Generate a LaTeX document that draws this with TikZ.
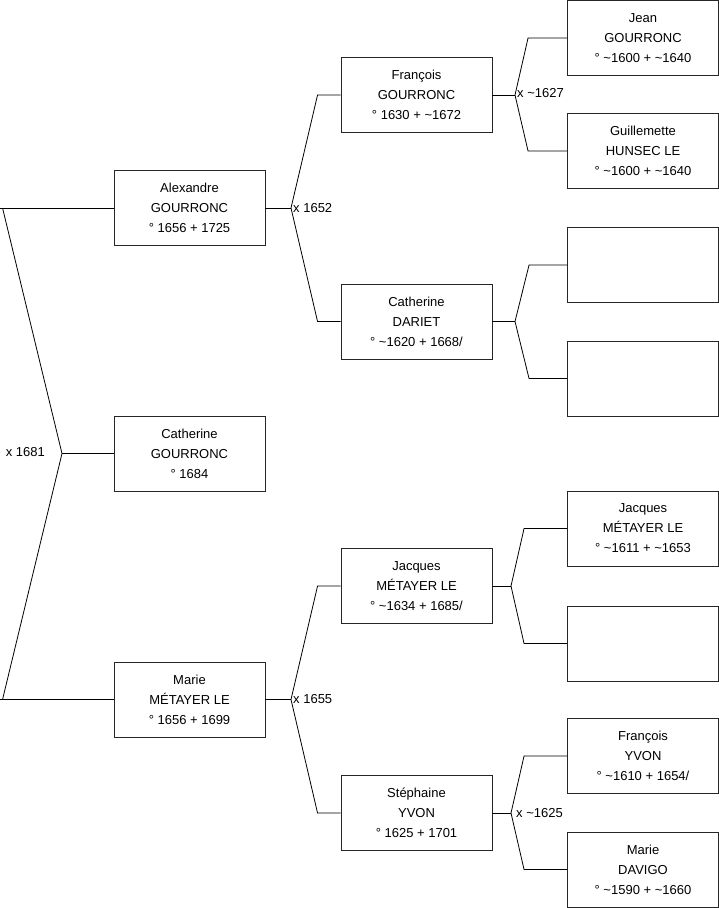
\documentclass[tikz,border=0pt]{standalone}
\usepackage{fontspec}
\setmainfont{Liberation Sans}
\begin{document}
\begin{tikzpicture}[x=1pt,y=-1pt,
  person/.style={draw=black!85,line width=0.9pt,rectangle,minimum width=151pt,minimum height=75pt,inner sep=0pt,align=center,font=\fontsize{13}{20}\selectfont},
  link/.style={draw=black,line width=0.8pt},
  mlabel/.style={inner sep=0pt,font=\fontsize{13}{16}\selectfont}]
\useasboundingbox (0,0) rectangle (719,908);
% generation 1
\node[person] (alex) at (189.5,208) {Alexandre\\GOURRONC\\° 1656 + 1725};
\node[person] (cathg) at (189.5,453.5) {Catherine\\GOURRONC\\° 1684};
\node[person] (marie) at (189.5,699.5) {Marie\\MÉTAYER LE\\° 1656 + 1699};
% generation 2
\node[person] (fran) at (416.5,95) {François\\GOURRONC\\° 1630 + \textasciitilde1672};
\node[person] (cathd) at (416.5,321.5) {Catherine\\DARIET\\° \textasciitilde1620 + 1668/};
\node[person] (jacq) at (416.5,586) {Jacques\\MÉTAYER LE\\° \textasciitilde1634 + 1685/};
\node[person] (steph) at (416.5,813) {Stéphaine\\YVON\\° 1625 + 1701};
% generation 3
\node[person] (jean) at (643,38) {Jean\\GOURRONC\\° \textasciitilde1600 + \textasciitilde1640};
\node[person] (guil) at (643,151) {Guillemette\\HUNSEC LE\\° \textasciitilde1600 + \textasciitilde1640};
\node[person] (e1) at (643,265) {};
\node[person] (e2) at (643,378.5) {};
\node[person] (jacq2) at (643,528.5) {Jacques\\MÉTAYER LE\\° \textasciitilde1611 + \textasciitilde1653};
\node[person] (e3) at (643,643.5) {};
\node[person] (fyvon) at (643,756) {François\\YVON\\° \textasciitilde1610 + 1654/};
\node[person] (davigo) at (643,869.5) {Marie\\DAVIGO\\° \textasciitilde1590 + \textasciitilde1660};
% junctions
\coordinate (j0) at (62,453.5);
\coordinate (j1) at (291,208);
\coordinate (j2) at (291,699.5);
\coordinate (j3) at (515,95);
\coordinate (j4) at (515,321.5);
\coordinate (j5) at (511,586);
\coordinate (j6) at (511,813);
% connectors gen 0
\draw[link] (alex.west) -- ++(-114,0);
\draw[link] (marie.west) -- ++(-114,0);
\draw[link] ([xshift=-111pt]alex.west) -- (j0) -- ([xshift=-111pt]marie.west);
\draw[link] (j0) -- (cathg.west);
% connectors gen 1
\draw[link] (alex.east) -- (j1);
\draw[link] (fran.west) -- ++(-23,0) -- (j1) -- ([xshift=-23pt]cathd.west) -- (cathd.west);
\draw[link] (marie.east) -- (j2);
\draw[link] (jacq.west) -- ++(-23,0) -- (j2) -- ([xshift=-23pt]steph.west) -- (steph.west);
% connectors gen 2
\draw[link] (fran.east) -- (j3);
\draw[link] (jean.west) -- ++(-39,0) -- (j3) -- ([xshift=-39pt]guil.west) -- (guil.west);
\draw[link] (cathd.east) -- (j4);
\draw[link] (e1.west) -- ++(-38,0) -- (j4) -- ([xshift=-38pt]e2.west) -- (e2.west);
\draw[link] (jacq.east) -- (j5);
\draw[link] (jacq2.west) -- ++(-43,0) -- (j5) -- ([xshift=-43pt]e3.west) -- (e3.west);
\draw[link] (steph.east) -- (j6);
\draw[link] (fyvon.west) -- ++(-43,0) -- (j6) -- ([xshift=-43pt]davigo.west) -- (davigo.west);
% marriage labels
\node[mlabel,anchor=east] (m0) at (45,452) {x 1681};
\node[mlabel,anchor=west] (m1) at (293,208) {x 1652};
\node[mlabel,anchor=west] (m2) at (293,699.5) {x 1655};
\node[mlabel,anchor=west] (m3) at (517,93) {x \textasciitilde1627};
\node[mlabel,anchor=west] (m6) at (516,813) {x \textasciitilde1625};
\end{tikzpicture}
\end{document}
